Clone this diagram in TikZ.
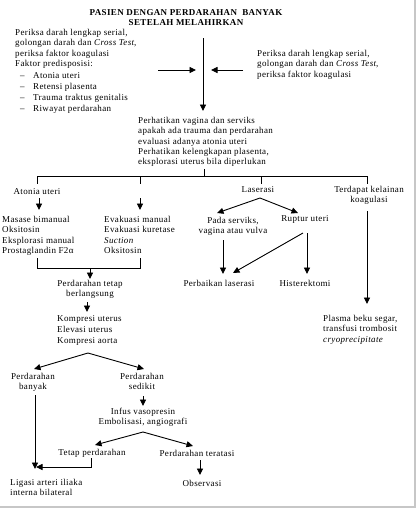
\documentclass[tikz,border=0pt]{standalone}
\usepackage{fontspec}
\setmainfont[LetterSpace=4]{Liberation Serif}
\usetikzlibrary{arrows.meta}
\newcommand{\diagfs}{\fontsize{9}{10.3}\selectfont}
\newcommand{\diagfsl}{\fontsize{9}{11}\selectfont}
\begin{document}
\begin{tikzpicture}[x=1pt,y=-1pt,
  txt/.style={inner sep=0pt, font=\diagfs, align=left},
  ctxt/.style={inner sep=0pt, font=\diagfs, align=center},
  ln/.style={line width=0.9pt},
  arr/.style={ln, -{Triangle[length=6.5pt,width=6pt]}}]
\useasboundingbox (0,0) rectangle (418,512);
\draw[black!22, line width=1.6pt] (0,507) -- (415,507) -- (415,0);

% title
\node[ctxt, font=\diagfs\bfseries, anchor=north] (title) at (186,9.5)
  {PASIEN DENGAN PERDARAHAN\ \ BANYAK\\SETELAH MELAHIRKAN};

% left info
\node[txt, anchor=north west] (left) at (15,29)
  {Periksa darah lengkap serial,\\golongan darah dan \textit{Cross Test},\\periksa faktor koagulasi\\Faktor predisposisi:};
\node[txt, font=\diagfsl, anchor=north west] (list) at (20,72)
  {\makebox[13pt][l]{--}Atonia uteri\\\makebox[13pt][l]{--}Retensi plasenta\\\makebox[13pt][l]{--}Trauma traktus genitalis\\\makebox[13pt][l]{--}Riwayat perdarahan};

% right info
\node[txt, anchor=north west] (right) at (257,50)
  {Periksa darah lengkap serial,\\golongan darah dan \textit{Cross Test},\\periksa faktor koagulasi};

% main arrow and side arrows
\coordinate (mtop) at (203,38);
\coordinate (la1) at (158,70);
\coordinate (la2) at (196,70);
\coordinate (ra1) at (243,70);
\coordinate (ra2) at (211,70);
\draw[arr] (la1) -- (la2);
\draw[arr] (ra1) -- (ra2);

% center
\node[txt, anchor=north west] (center) at (138,117)
  {Perhatikan vagina dan serviks\\apakah ada trauma dan perdarahan\\evaluasi adanya atonia uteri\\Perhatikan kelengkapan plasenta,\\eksplorasi uterus bila diperlukan};
\draw[arr, shorten >=6pt] (mtop) -- (mtop |- center.north);

% branching bar
\coordinate (bartop) at (204,169);
\coordinate (barc) at (204,176);
\coordinate (b1) at (37,176);
\coordinate (b4) at (367,176);
\draw[ln] (bartop) -- (barc);
\draw[ln] (b1) -- (b4);
\draw[ln] (37,176) -- (37,184);
\draw[ln] (140,176) -- (140,184);
\draw[ln] (261,176) -- (261,184);
\draw[ln] (367,176) -- (367,184);

% atonia branch
\node[ctxt] (atonia) at (37,192) {Atonia uteri};
\coordinate (aa1) at (39,198);
\coordinate (aa2) at (140,198);
\node[txt, anchor=north west] (masase) at (2,216)
  {Masase bimanual\\Oksitosin\\Eksplorasi manual\\Prostaglandin F2α};
\node[txt, anchor=north west] (evak) at (104,216)
  {Evakuasi manual\\Evakuasi kuretase\\\textit{Suction}\\Oksitosin};
\draw[arr] (aa1) -- (39,210);
\draw[arr] (aa2) -- (140,210);
\draw[ln] (37,258) -- (37,268) -- (140,268) -- (140,258);
\coordinate (brc) at (90,268);
\node[ctxt, anchor=north] (tetap) at (90,280) {Perdarahan tetap\\berlangsung};
\draw[arr] (brc) -- (90,279);
\node[txt, anchor=north west, font=\diagfsl] (kompresi) at (57,315)
  {Kompresi uterus\\Elevasi uterus\\Kompresi aorta};
\draw[arr] (87,302) -- (87,312);
\coordinate (ks) at (88,353);
\node[ctxt, anchor=north] (banyak) at (33,373) {Perdarahan\\banyak};
\node[ctxt, anchor=north] (sedikit) at (142,373) {Perdarahan\\sedikit};
\draw[arr] (ks) -- (34,369);
\draw[arr] (ks) -- (144,369);
\node[txt, anchor=north west] (ligasi) at (10,479) {Ligasi arteri iliaka\\interna bilateral};
\coordinate (lg) at (35,469);
\draw[arr] (35,395) -- (lg);
\node[ctxt, anchor=north] (infus) at (143,408) {Infus vasopresin\\Embolisasi, angiografi};
\draw[arr] (143,396) -- (143,406);
\coordinate (is) at (143,432);
\node[ctxt] (tp) at (92,453) {Tetap perdarahan};
\node[ctxt] (pt) at (197,453) {Perdarahan teratasi};
\draw[arr] (is) -- (95,445);
\draw[arr] (is) -- (193,446);
\draw[arr] (91,458) -- (91,467) -- (36,467);
\node[ctxt] (obs) at (202,483) {Observasi};
\draw[arr] (200,460) -- (200,475);

% laserasi branch
\node[ctxt] (laserasi) at (258,190) {Laserasi};
\coordinate (ls) at (260,198);
\node[ctxt, anchor=north] (pada) at (233,217) {Pada serviks,\\vagina atau vulva};
\node[ctxt] (ruptur) at (305,219) {Ruptur uteri};
\draw[arr] (ls) -- (217,213);
\draw[arr] (ls) -- (298,213);
\node[ctxt] (perb) at (219,283) {Perbaikan laserasi};
\node[ctxt] (hist) at (305,283) {Histerektomi};
\draw[arr] (223,240) -- (223,274);
\draw[arr] (303,233) -- (233,273);
\draw[arr] (307,233) -- (307,274);

% koagulasi branch
\node[ctxt, anchor=north] (koag) at (369,186) {Terdapat kelainan\\koagulasi};
\node[txt, anchor=north west] (plasma) at (323,315)
  {Plasma beku segar,\\transfusi trombosit\\\textit{cryoprecipitate}};
\draw[arr] (367,211) -- (367,304);
\end{tikzpicture}
\end{document}
